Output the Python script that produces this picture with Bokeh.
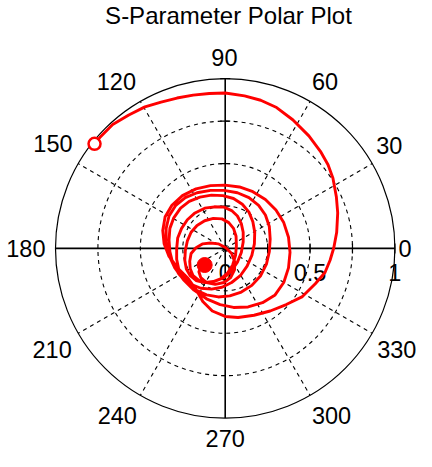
import numpy as np
from bokeh.plotting import figure
from bokeh.models import Range1d, Label
from bokeh.core.properties import value
from bokeh.embed import file_html
from bokeh.resources import INLINE

# ---------------- data ----------------
title_text = "S-Parameter Polar Plot"
angle_ticks = [0, 30, 60, 90, 120, 150, 180, 210, 240, 270, 300, 330]
angle_labels = ["0", "30", "60", "90", "120", "150", "180", "210", "240", "270", "300", "330"]
radial_ticks = [0.25, 0.5, 0.75, 1.0]
radial_label_values = [0.0, 0.5, 1.0]
radial_labels = ["0", "0.5", "1"]

# Real and imaginary part of the S-parameter trace (start -> end)
s_re = [-0.770, -0.739, -0.663, -0.568, -0.473, -0.378, -0.284, -0.189, -0.094, 0.000,
        0.114, 0.209, 0.303, 0.398, 0.493, 0.561, 0.606, 0.635, 0.655, 0.663,
        0.657, 0.640, 0.618, 0.588, 0.531, 0.455, 0.360, 0.265, 0.170, 0.076,
        0.000, -0.076, -0.132, -0.170,
        -0.218, -0.280, -0.331, -0.360, -0.368, -0.354, -0.314, -0.252, -0.172, -0.087,
        -0.002, 0.084, 0.163, 0.237, 0.299, 0.345, 0.373, 0.382, 0.373, 0.345,
        0.294, 0.220, 0.135, 0.049, -0.030,
        -0.110, -0.184, -0.246, -0.297, -0.331, -0.348, -0.348, -0.331, -0.291, -0.235,
        -0.166, -0.087, -0.007, 0.072, 0.140, 0.197, 0.237, 0.260, 0.265, 0.260,
        0.243, 0.209, 0.157, 0.095, 0.027, -0.041,
        -0.110, -0.172, -0.229, -0.274, -0.309, -0.326, -0.331, -0.326, -0.303, -0.263,
        -0.212, -0.149, -0.081, -0.013, 0.049, 0.101, 0.140, 0.163, 0.174, 0.172,
        0.157, 0.129, 0.089, 0.038, -0.019, -0.081,
        -0.144, -0.201, -0.246, -0.274, -0.286, -0.286, -0.280, -0.257, -0.223, -0.178,
        -0.121, -0.064, -0.007, 0.038, 0.072, 0.095, 0.106, 0.106, 0.095, 0.072,
        0.038, -0.007, -0.064, -0.121,
        -0.172, -0.206, -0.229, -0.238, -0.235, -0.223, -0.201, -0.166, -0.121, -0.070,
        -0.019, 0.021, 0.049, 0.064, 0.066, 0.061, 0.044, 0.015, -0.024, -0.070, -0.115,
        -0.155, -0.189, -0.206, -0.209, -0.201, -0.172, -0.132, -0.087, -0.041, 0.004,
        0.038, 0.055, 0.055, 0.032, -0.007, -0.059, -0.110, -0.144, -0.155, -0.144, -0.121]
s_im = [0.616, 0.653, 0.730, 0.786, 0.834, 0.862, 0.886, 0.903, 0.913, 0.916,
        0.899, 0.873, 0.830, 0.758, 0.663, 0.572, 0.493, 0.413, 0.305, 0.209,
        0.095, 0.004, -0.070, -0.142, -0.208, -0.284, -0.331, -0.369, -0.394, -0.407,
        -0.401, -0.369, -0.313, -0.246,
        -0.178, -0.115, -0.047, 0.027, 0.106, 0.186, 0.254, 0.311, 0.351, 0.370,
        0.373, 0.362, 0.334, 0.288, 0.226, 0.152, 0.066, -0.024, -0.115, -0.201,
        -0.274, -0.320, -0.345, -0.348, -0.331,
        -0.297, -0.246, -0.184, -0.115, -0.041, 0.038, 0.118, 0.191, 0.254, 0.299,
        0.328, 0.342, 0.342, 0.328, 0.299, 0.254, 0.197, 0.129, 0.055, -0.019,
        -0.093, -0.161, -0.218, -0.257, -0.280, -0.286,
        -0.274, -0.246, -0.201, -0.149, -0.087, -0.019, 0.049, 0.118, 0.180, 0.237,
        0.277, 0.302, 0.314, 0.311, 0.294, 0.260, 0.214, 0.157, 0.095, 0.027,
        -0.041, -0.104, -0.161, -0.201, -0.229, -0.240,
        -0.235, -0.212, -0.172, -0.121, -0.064, -0.002, 0.061, 0.118, 0.169, 0.209,
        0.237, 0.245, 0.243, 0.223, 0.191, 0.146, 0.095, 0.038, -0.024, -0.081,
        -0.132, -0.172, -0.195, -0.201,
        -0.189, -0.161, -0.121, -0.070, -0.013, 0.044, 0.095, 0.135, 0.163, 0.177,
        0.174, 0.152, 0.118, 0.072, 0.015, -0.041, -0.098, -0.144, -0.178, -0.195, -0.201,
        -0.189, -0.161, -0.121, -0.076, -0.030, 0.004, 0.027, 0.032, 0.027, 0.004,
        -0.030, -0.076, -0.127, -0.172, -0.201, -0.212, -0.201, -0.172, -0.138, -0.110, -0.098]

# ---------------- layout ----------------
W, H = 416, 451
SCALE = 169.7          # pixels per unit magnitude
CX, CY = 224.7, 247.9  # pole position inside the figure (px from top-left)
FONT = "Liberation Sans"
LSIZE = "23.5px"
TSIZE = "24px"
INK = "#000000"

p = figure(width=W, height=H,
           x_range=Range1d(-CX / SCALE, (W - CX) / SCALE),
           y_range=Range1d(-(H - CY) / SCALE, CY / SCALE),
           x_axis_type=None, y_axis_type=None,
           output_backend="svg", toolbar_location=None,
           min_border=0, outline_line_color=None)
p.grid.visible = False
p.background_fill_color = "white"
p.border_fill_color = "white"

# dashed grid circles
p.circle(x=[0] * 3, y=[0] * 3, radius=radial_ticks[:3], fill_color=None,
         line_color=INK, line_width=1.1, line_dash="4 4")
# dashed radial spokes
spokes = [a for a in angle_ticks if a % 90 != 0]
th = np.deg2rad(spokes)
p.segment(x0=[0] * len(spokes), y0=[0] * len(spokes), x1=np.cos(th), y1=np.sin(th),
          line_color=INK, line_width=1.1, line_dash="4 4")
# outer circle
p.circle(x=[0], y=[0], radius=[radial_ticks[-1]], fill_color=None,
         line_color=INK, line_width=1.2)
# main axes
p.segment(x0=[-1, 0], y0=[0, -1], x1=[1, 0], y1=[0, 1], line_color=INK, line_width=1.6)
# tick marks on the axes
p.scatter(x=radial_ticks, y=[0] * 4, marker="dash", size=10, angle=np.pi / 2,
          line_color=INK, line_width=1.2)
p.scatter(x=[0] * 4, y=radial_ticks, marker="dash", size=10, angle=0,
          line_color=INK, line_width=1.2)

# angle labels: anchored on the outer circle, pushed outward by pixel offsets
tha = np.deg2rad(angle_ticks)
ax_off = [3.6, 4.1, 1.9, -0.8, -4.4, -5.7, -10, -6.5, -3.5, 0, 1.9, 5]
ay_off = [0, -18, -20.2, -21.4, -19.9, -19.7, 0, 16.7, 20.1, 20.2, 20.1, 16.7]
aligns = ["left", "left", "left", "center", "right", "right", "right", "right",
          "right", "center", "left", "left"]
for al in ("left", "center", "right"):
    idx = [i for i, a in enumerate(aligns) if a == al]
    p.text(x=np.cos(tha[idx]), y=np.sin(tha[idx]), text=[angle_labels[i] for i in idx],
           x_offset=[ax_off[i] for i in idx], y_offset=[ay_off[i] for i in idx],
           text_align=al, text_baseline="middle", text_color=INK,
           text_font=value(FONT), text_font_size=value(LSIZE))
# radial labels under the 0-degree axis
p.text(x=radial_label_values, y=[0] * 3, text=radial_labels, x_offset=0, y_offset=24,
       text_align="center", text_baseline="middle", text_color=INK,
       text_font=value(FONT), text_font_size=value(LSIZE))

# the trace
p.line(s_re, s_im, line_color="#ff0000", line_width=2.9, line_join="round", line_cap="round")
p.scatter([s_re[0]], [s_im[0]], marker="circle", size=12, fill_color="white",
          line_color="#ff0000", line_width=2.5)
p.scatter([s_re[-1]], [s_im[-1]], marker="circle", size=15, fill_color="#ff0000",
          line_color="#ff0000")

# title
p.add_layout(Label(x=228, y=H - 15.2, x_units="screen", y_units="screen", text=title_text,
                   text_align="center", text_baseline="middle", text_color=INK,
                   text_font=FONT, text_font_size=TSIZE))

open("out.html", "w").write(file_html(p, INLINE))
